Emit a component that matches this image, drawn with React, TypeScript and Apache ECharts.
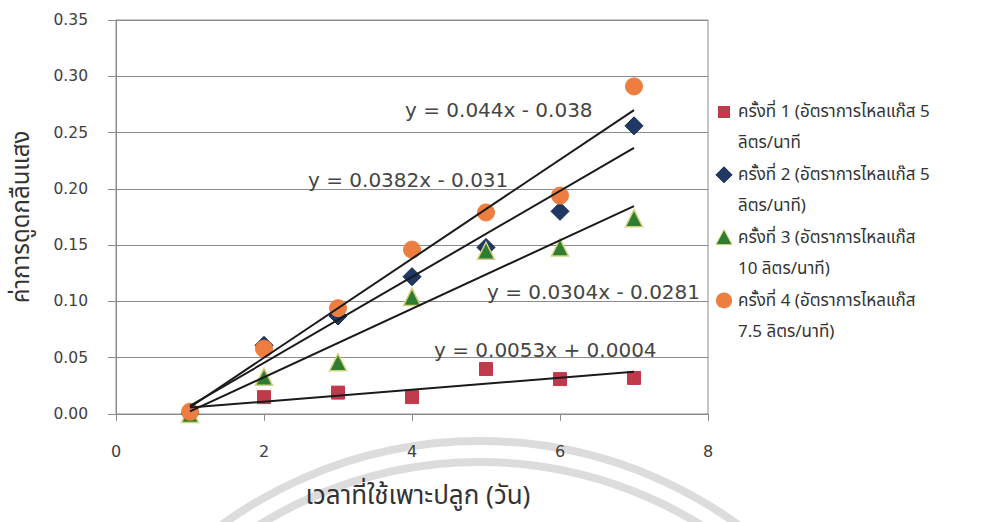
import React, { useEffect, useRef } from "react";
import * as echarts from "echarts";

const days = [1, 2, 3, 4, 5, 6, 7];
const run1 = [0.0, 0.015, 0.019, 0.015, 0.04, 0.031, 0.032];
const run2 = [0.0, 0.061, 0.087, 0.122, 0.148, 0.18, 0.256];
const run3 = [0.0, 0.033, 0.046, 0.104, 0.145, 0.148, 0.174];
const run4 = [0.002, 0.058, 0.094, 0.146, 0.179, 0.194, 0.291];

const seriesNames = [
  "ครั้งที่ 1 (อัตราการไหลแก๊ส 5\nลิตร/นาที",
  "ครั้งที่ 2 (อัตราการไหลแก๊ส 5\nลิตร/นาที)",
  "ครั้งที่ 3 (อัตราการไหลแก๊ส\n10 ลิตร/นาที)",
  "ครั้งที่ 4 (อัตราการไหลแก๊ส\n7.5 ลิตร/นาที)",
];

const slopes = [0.0053, 0.0382, 0.0304, 0.044];
const intercepts = [0.0004, -0.031, -0.0281, -0.038];
const equations = [
  "y = 0.0053x + 0.0004",
  "y = 0.0382x - 0.031",
  "y = 0.0304x - 0.0281",
  "y = 0.044x - 0.038",
];
const trendRange = [1, 7];

const xTicks = [0, 2, 4, 6, 8];
const yTicks = [0, 0.05, 0.1, 0.15, 0.2, 0.25, 0.3, 0.35];

const xTitle = "เวลาที่ใช้เพาะปลูก (วัน)";
const yTitle = "ค่าการดูดกลืนแสง";

const THAI = "Tahoma, 'Noto Sans Thai', 'Noto Sans Thai UI', 'Loma', 'Garuda', 'Norasi', 'DejaVu Sans', sans-serif";
const NUM = "'DejaVu Sans', Verdana, sans-serif";

export default function App() {
  const ref = useRef<HTMLDivElement>(null);
  useEffect(() => {
    if (!ref.current) return;
    const chart = echarts.init(ref.current, undefined, { renderer: "svg" });
    const runs = [run1, run2, run3, run4];
    const colors = ["#C03A4C", "#1F3864", "#2E7D32", "#EE7E3F"];
    const borders = ["#C03A4C", "#0F2448", "#D6D27A", "#EE7E3F"];
    const symbols = ["rect", "diamond", "triangle", "circle"];
    const sizes = [13, 18, 17, 17];

    const scatter = runs.map((r, i) => ({
      type: "scatter",
      name: seriesNames[i],
      data: days.map((d, j) => [d, r[j]]),
      symbol: symbols[i],
      symbolSize: sizes[i],
      itemStyle: { color: colors[i], borderColor: borders[i], borderWidth: i === 2 ? 1.5 : 1, opacity: 1 },
      z: 3 + i,
    }));
    const trends = slopes.map((m, i) => ({
      type: "line",
      name: "trend" + i,
      data: trendRange.map((x) => [x, m * x + intercepts[i]]),
      symbol: "none",
      lineStyle: { color: "#1a1a1a", width: 2 },
      z: 10,
      silent: true,
    }));

    const legendEls: any[] = [];
    const lx = 724;
    seriesNames.forEach((name, i) => {
      const cy = 112 + i * 62.8;
      let marker: any;
      if (i === 0) marker = { type: "rect", shape: { x: lx - 6, y: cy - 6, width: 12, height: 12 }, style: { fill: colors[0] } };
      if (i === 1) marker = { type: "polygon", shape: { points: [[lx, cy - 8], [lx + 8, cy], [lx, cy + 8], [lx - 8, cy]] }, style: { fill: colors[1], stroke: borders[1] } };
      if (i === 2) marker = { type: "polygon", shape: { points: [[lx, cy - 8], [lx + 8, cy + 7], [lx - 8, cy + 7]] }, style: { fill: colors[2], stroke: borders[2] } };
      if (i === 3) marker = { type: "circle", shape: { cx: lx, cy, r: 8 }, style: { fill: colors[3] } };
      legendEls.push(marker);
      legendEls.push({
        type: "text",
        x: 738,
        y: cy - 15.5,
        style: { text: name, font: `17px ${THAI}`, fill: "#333", lineHeight: 31.3, verticalAlign: "top" },
      });
    });

    const eqPos = [
      [434, 350],
      [308, 180],
      [487, 292],
      [405, 110],
    ];
    const eqEls = equations.map((t, i) => ({
      type: "text",
      x: eqPos[i][0],
      y: eqPos[i][1],
      z: 20,
      style: { text: t, font: `20px ${NUM}`, fill: "#454545", verticalAlign: "middle" },
    }));

    const arcs = [439, 418].map((r) => ({
      type: "arc",
      z: -10,
      silent: true,
      shape: { cx: 480, cy: 880, r, startAngle: -Math.PI / 2 - 0.8, endAngle: -Math.PI / 2 + 0.8, clockwise: true },
      style: { stroke: "#dcdcdc", lineWidth: 8, fill: "none" },
    }));

    chart.setOption({
      animation: false,
      backgroundColor: "#ffffff",
      grid: {
        left: 116, right: 280, top: 20, bottom: 108,
        show: true, borderColor: "#8c8c8c", borderWidth: 1,
        outerBoundsMode: "none", containLabel: false,
      },
      xAxis: {
        type: "value",
        min: xTicks[0],
        max: xTicks[xTicks.length - 1],
        interval: 2,
        name: xTitle,
        nameLocation: "middle",
        nameGap: 68,
        nameTextStyle: { fontFamily: THAI, fontSize: 26, lineHeight: 28, color: "#333", padding: [0, 0, 0, 12] },
        axisLine: { show: true, lineStyle: { color: "#8c8c8c" } },
        axisTick: { show: true, length: 7, lineStyle: { color: "#8c8c8c" } },
        axisLabel: { margin: 29, fontFamily: NUM, fontSize: 16, color: "#404040" },
        splitLine: { show: false },
      },
      yAxis: {
        type: "value",
        min: yTicks[0],
        max: yTicks[yTicks.length - 1],
        interval: 0.05,
        name: yTitle,
        nameLocation: "middle",
        nameRotate: 90,
        nameGap: 82,
        nameTextStyle: { fontFamily: THAI, fontSize: 24, color: "#333" },
        axisLine: { show: true, lineStyle: { color: "#8c8c8c" } },
        axisTick: { show: true, length: 8, lineStyle: { color: "#8c8c8c" } },
        axisLabel: { margin: 28, fontFamily: NUM, fontSize: 15.5, color: "#404040", formatter: (v: number) => v.toFixed(2) },
        splitLine: { show: true, lineStyle: { color: "#8c8c8c", width: 1 } },
      },
      graphic: [...arcs, ...legendEls, ...eqEls],
      series: [...scatter, ...trends],
    });
    return () => chart.dispose();
  }, []);
  return <div ref={ref} style={{ width: 988, height: 522, position: "absolute", left: 0, top: 0 }} />;
}
